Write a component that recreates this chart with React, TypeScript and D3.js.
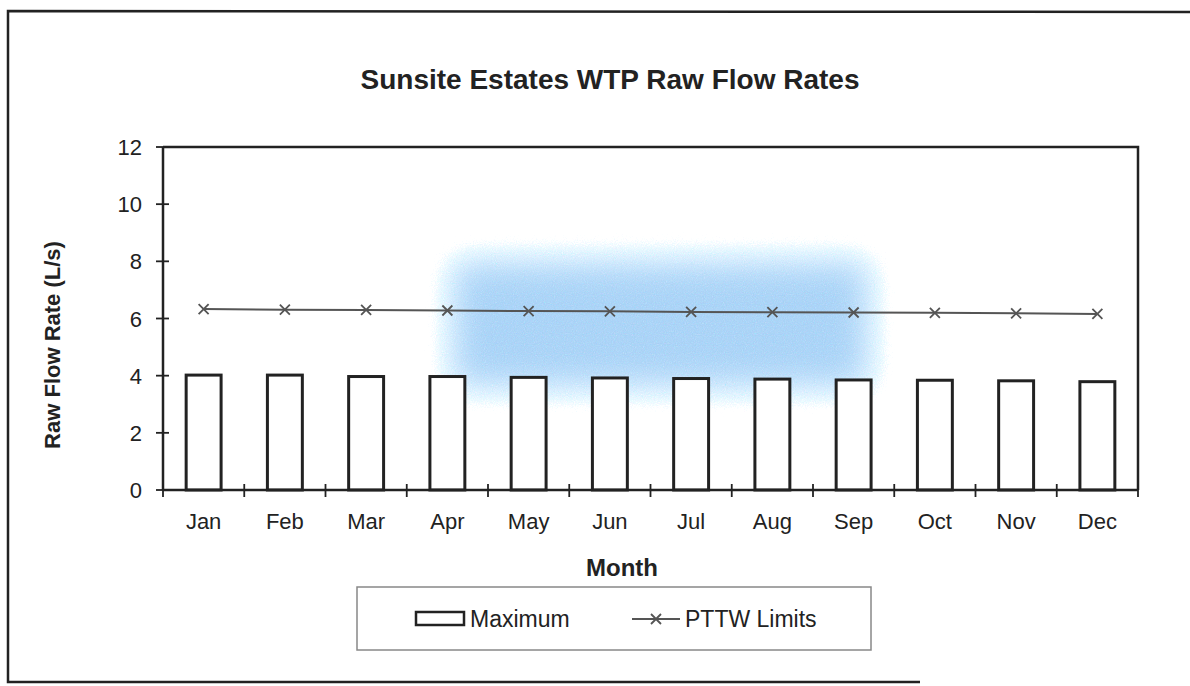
import React, { useEffect, useRef } from 'react';
import * as d3 from 'd3';

const months = ['Jan', 'Feb', 'Mar', 'Apr', 'May', 'Jun', 'Jul', 'Aug', 'Sep', 'Oct', 'Nov', 'Dec'];
const maximum = [4.02, 4.02, 3.97, 3.97, 3.94, 3.92, 3.9, 3.88, 3.85, 3.84, 3.82, 3.79];
const pttwLimits = [6.33, 6.31, 6.3, 6.28, 6.26, 6.25, 6.23, 6.22, 6.21, 6.2, 6.18, 6.16];
const yTicks = [0, 2, 4, 6, 8, 10, 12];

const W = 1190;
const H = 686;
const FONT = '"Liberation Sans", Arial, sans-serif';

const App = () => {
  const ref = useRef<SVGSVGElement>(null);

  useEffect(() => {
    const svg = d3.select(ref.current);
    svg.selectAll('*').remove();

    const x = d3.scaleBand<string>()
      .domain(months)
      .range([163, 1138])
      .paddingInner(0.57)
      .paddingOuter(0.285);
    const y = d3.scaleLinear().domain([0, 12]).range([490, 147]);

    svg.append('rect').attr('width', W).attr('height', H).attr('fill', '#fff');

    // scanned page frame
    svg.append('path')
      .attr('d', 'M1190,12 L8,11 L8,682 L920,682')
      .attr('fill', 'none')
      .attr('stroke', '#222')
      .attr('stroke-width', 2.5);

    // blue smudge from the scan
    const defs = svg.append('defs');
    const f = defs.append('filter').attr('id', 'smudge')
      .attr('x', '-30%').attr('y', '-30%').attr('width', '160%').attr('height', '160%');
    f.append('feTurbulence').attr('type', 'fractalNoise').attr('baseFrequency', 0.9)
      .attr('numOctaves', 2).attr('result', 'noise');
    f.append('feGaussianBlur').attr('in', 'SourceGraphic').attr('stdDeviation', 18).attr('result', 'blur');
    f.append('feComposite').attr('in', 'blur').attr('in2', 'noise').attr('operator', 'arithmetic')
      .attr('k1', 0).attr('k2', 1).attr('k3', -0.3).attr('k4', 0);

    svg.append('rect')
      .attr('x', x('Apr')! + 20)
      .attr('y', y(8.1))
      .attr('width', x('Sep')! + x.bandwidth() - x('Apr')! - 20)
      .attr('height', y(3.5) - y(8.1))
      .attr('fill', '#8fc0ec')
      .attr('opacity', 0.8)
      .attr('filter', 'url(#smudge)');

    // plot border (right and top)
    svg.append('path')
      .attr('d', `M163,${y(12)} L1138,${y(12)} L1138,${y(0)}`)
      .attr('fill', 'none')
      .attr('stroke', '#222')
      .attr('stroke-width', 2.5);

    // bars
    svg.append('g')
      .selectAll('rect')
      .data(maximum)
      .join('rect')
      .attr('x', (d, i) => x(months[i])!)
      .attr('y', d => y(d))
      .attr('width', x.bandwidth())
      .attr('height', d => y(0) - y(d))
      .attr('fill', '#fff')
      .attr('stroke', '#222')
      .attr('stroke-width', 3);

    // axes
    const axes = svg.append('g').attr('stroke', '#222').attr('stroke-width', 2.5);
    axes.append('line').attr('x1', 163).attr('x2', 163).attr('y1', y(12)).attr('y2', y(0));
    axes.append('line').attr('x1', 163).attr('x2', 1138).attr('y1', y(0)).attr('y2', y(0));
    axes.selectAll('.yt')
      .data(yTicks)
      .join('line')
      .attr('x1', 156).attr('x2', 169)
      .attr('y1', d => y(d)).attr('y2', d => y(d))
      .attr('stroke-width', 1.8);
    const step = x.step();
    axes.selectAll('.xt')
      .data(d3.range(13))
      .join('line')
      .attr('x1', i => 163 + i * step).attr('x2', i => 163 + i * step)
      .attr('y1', y(0) - 6).attr('y2', y(0) + 7)
      .attr('stroke-width', 1.8);

    svg.append('g')
      .selectAll('text')
      .data(yTicks)
      .join('text')
      .attr('x', 142)
      .attr('y', d => y(d) + 8)
      .attr('text-anchor', 'end')
      .attr('font-family', FONT)
      .attr('font-size', 22)
      .attr('fill', '#222')
      .text(d => d);

    svg.append('g')
      .selectAll('text')
      .data(months)
      .join('text')
      .attr('x', d => x(d)! + x.bandwidth() / 2)
      .attr('y', 529)
      .attr('text-anchor', 'middle')
      .attr('font-family', FONT)
      .attr('font-size', 22)
      .attr('fill', '#222')
      .text(d => d);

    // PTTW line
    const lineGen = d3.line<number>()
      .x((d, i) => x(months[i])! + x.bandwidth() / 2)
      .y(d => y(d));
    svg.append('path')
      .datum(pttwLimits)
      .attr('d', lineGen)
      .attr('fill', 'none')
      .attr('stroke', '#555')
      .attr('stroke-width', 2);

    const cross = (cx: number, cy: number, s: number) =>
      `M${cx - s},${cy - s}L${cx + s},${cy + s}M${cx - s},${cy + s}L${cx + s},${cy - s}`;
    svg.append('g')
      .selectAll('path')
      .data(pttwLimits)
      .join('path')
      .attr('d', (d, i) => cross(x(months[i])! + x.bandwidth() / 2, y(d), 5))
      .attr('stroke', '#555')
      .attr('stroke-width', 1.8);

    // titles
    svg.append('text')
      .attr('x', 610).attr('y', 89)
      .attr('text-anchor', 'middle')
      .attr('font-family', FONT).attr('font-size', 28).attr('font-weight', 'bold')
      .attr('fill', '#222')
      .text('Sunsite Estates WTP Raw Flow Rates');

    svg.append('text')
      .attr('x', 622).attr('y', 576)
      .attr('text-anchor', 'middle')
      .attr('font-family', FONT).attr('font-size', 24).attr('font-weight', 'bold')
      .attr('fill', '#222')
      .text('Month');

    svg.append('text')
      .attr('transform', 'translate(60,345) rotate(-90)')
      .attr('text-anchor', 'middle')
      .attr('font-family', FONT).attr('font-size', 22).attr('font-weight', 'bold')
      .attr('fill', '#222')
      .text('Raw Flow Rate (L/s)');

    // legend
    const lg = svg.append('g');
    lg.append('rect')
      .attr('x', 357).attr('y', 587).attr('width', 514).attr('height', 63)
      .attr('fill', 'none').attr('stroke', '#888').attr('stroke-width', 1.5);
    lg.append('rect')
      .attr('x', 416).attr('y', 612).attr('width', 48).attr('height', 13)
      .attr('fill', '#fff').attr('stroke', '#222').attr('stroke-width', 2.5);
    lg.append('text')
      .attr('x', 470).attr('y', 627)
      .attr('font-family', FONT).attr('font-size', 23).attr('fill', '#222')
      .text('Maximum');
    lg.append('line')
      .attr('x1', 632).attr('x2', 680).attr('y1', 619).attr('y2', 619)
      .attr('stroke', '#555').attr('stroke-width', 2);
    lg.append('path')
      .attr('d', cross(656, 619, 5))
      .attr('stroke', '#555').attr('stroke-width', 1.8);
    lg.append('text')
      .attr('x', 685).attr('y', 627)
      .attr('font-family', FONT).attr('font-size', 23).attr('fill', '#222')
      .text('PTTW Limits');
  }, []);

  return (
    <svg
      ref={ref}
      width={W}
      height={H}
      style={{ position: 'absolute', left: 0, top: 0, display: 'block' }}
    />
  );
};

export default App;
